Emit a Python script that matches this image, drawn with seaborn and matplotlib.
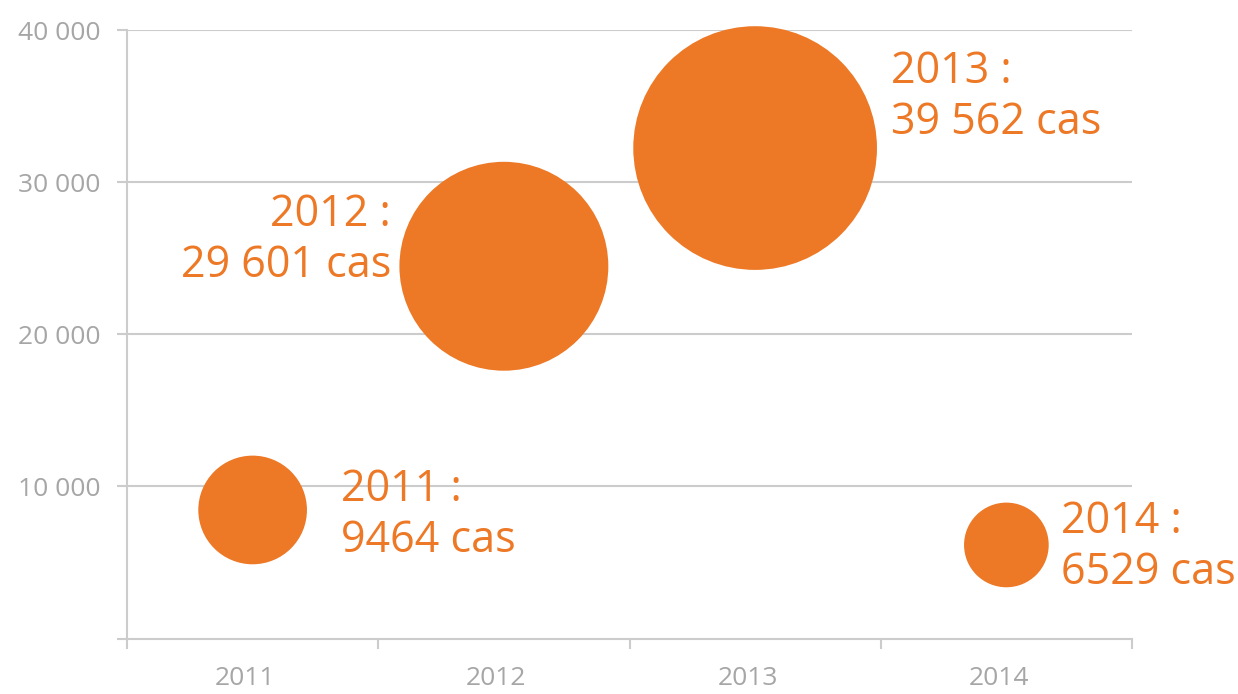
import numpy as np
import pandas as pd
import matplotlib
matplotlib.use("Agg")
import matplotlib.pyplot as plt
import seaborn as sns

# ----------------------------------------------------------
# Data
# ----------------------------------------------------------

years = ["2011", "2012", "2013", "2014"]
cases = [9464, 29601, 39562, 6529]
y_pos = [8450, 24470, 32240, 6150]
y_ticks = [0, 10000, 20000, 30000, 40000]
y_labels = ["", "10 000", "20 000", "30 000", "40 000"]

df = pd.DataFrame({"year": years, "cases": cases, "y": y_pos})
df["pos"] = np.arange(len(df))

ORANGE = "#ED7826"
GREY_TXT = "#A6A6A6"
GREY_LINE = "#CCCCCC"


def fmt_cases(v):
    if v >= 10000:
        return f"{v:,}".replace(",", " ")
    return str(v)


# ----------------------------------------------------------
# Figure
# ----------------------------------------------------------

sns.set_style("white")
plt.rcParams["font.family"] = ["Open Sans", "DejaVu Sans"]

fig = plt.figure(figsize=(12.38, 6.94), dpi=100)
ax = fig.add_axes([127 / 1238, 1 - 638.5 / 694, 1005 / 1238, 608.5 / 694])

sns.scatterplot(
    data=df,
    x="pos",
    y="y",
    size="cases",
    sizes=(3716, 30786),
    color=ORANGE,
    linewidth=0,
    alpha=1,
    legend=False,
    clip_on=False,
    zorder=3,
    ax=ax
)

ax.set_xlim(-0.5, len(years) - 0.5)
ax.set_ylim(0, 40000)

# gridlines
for t in y_ticks[1:]:
    ax.axhline(t, color=GREY_LINE, lw=1.5, zorder=1)

# axes styling
for side in ["top", "right"]:
    ax.spines[side].set_visible(False)
for side in ["left", "bottom"]:
    ax.spines[side].set_color(GREY_LINE)
    ax.spines[side].set_linewidth(1.5)

ax.set_yticks(y_ticks)
ax.set_yticklabels(y_labels)
ax.tick_params(axis="y", left=True, length=7.2, width=1.5, color=GREY_LINE,
               labelcolor=GREY_TXT, labelsize=19, pad=12)

ax.set_xticks(np.arange(-0.5, len(years)))
ax.set_xticklabels([])
ax.set_xticks(np.arange(len(years)) - 0.03, minor=True)
ax.set_xticklabels(years, minor=True)
ax.tick_params(axis="x", which="major", bottom=True, length=7.2, width=1.5,
               color=GREY_LINE)
ax.tick_params(axis="x", which="minor", bottom=True, length=0,
               labelcolor=GREY_TXT, labelsize=19, pad=20)

ax.set_xlabel("")
ax.set_ylabel("")

# ----------------------------------------------------------
# Labels
# ----------------------------------------------------------

offsets = [(88, -5, "left"), (-113, 26, "right"),
           (136, 51, "left"), (55, -2, "left")]

for (dx, dy, ha), row in zip(offsets, df.itertuples()):
    ax.annotate(
        f"{row.year} :\n{fmt_cases(row.cases)} cas",
        xy=(row.pos, row.y),
        xytext=(dx, dy),
        textcoords="offset pixels",
        ha=ha, va="center",
        color=ORANGE, fontsize=31,
        multialignment=ha,
        annotation_clip=False
    )

plt.savefig("out.png", dpi=100)
plt.close()
